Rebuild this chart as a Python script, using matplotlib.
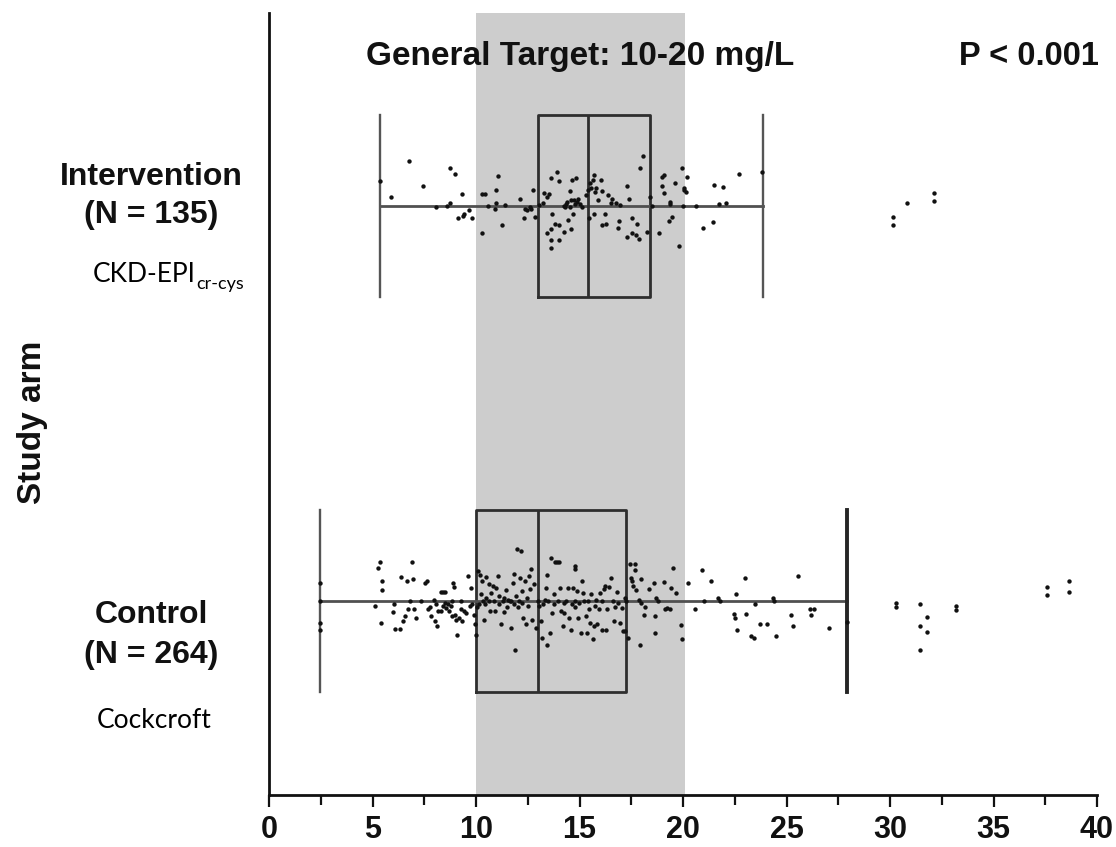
import matplotlib
matplotlib.use("Agg")
import matplotlib.pyplot as plt
from matplotlib.ticker import MultipleLocator

# ---- data -------------------------------------------------------------
arms = ["Control", "Intervention"]
arm_counts = [264, 135]
equations = ["Cockcroft", "CKD-EPI"]
equation_subscripts = ["", "cr-cys"]

target_low, target_high = 10.0, 20.1
p_text = "P < 0.001"
x_ticks = [0, 5, 10, 15, 20, 25, 30, 35, 40]

# box-plot summaries (mg/L)
ctrl_stats = dict(q1=10.0, med=13.0, q3=17.25, whislo=2.45, whishi=27.9)
interv_stats = dict(q1=13.0, med=15.4, q3=18.4, whislo=5.35, whishi=23.85)

# individual trough levels (mg/L) and vertical jitter
interv_x = [
    5.38, 5.90, 6.76, 7.45, 8.09, 8.61, 8.75, 8.75, 9.00, 9.32,
    9.13, 9.35, 9.44, 9.66, 9.82, 10.30, 10.44, 10.30, 10.90, 10.95,
    10.99, 11.07, 11.25, 12.14, 12.37, 12.32, 12.45, 12.66, 12.76, 12.83,
    13.06, 13.28, 13.52, 13.45, 13.63, 13.63, 13.63, 13.63, 13.69, 13.92,
    14.00, 14.00, 13.83, 14.00, 14.23, 14.35, 14.32, 14.44, 14.52, 14.61,
    14.66, 14.69, 14.73, 14.83, 14.87, 14.92, 15.00, 15.42, 15.47, 15.52,
    15.64, 15.69, 15.69, 15.82, 16.04, 16.11, 16.07, 16.21, 16.28, 16.38,
    16.59, 16.76, 16.94, 16.90, 16.85, 17.28, 17.28, 17.37, 17.54, 17.54,
    17.71, 17.80, 17.88, 17.94, 18.07, 18.28, 18.40, 18.83, 18.97, 19.06,
    18.97, 19.09, 19.32, 19.35, 19.49, 19.61, 19.80, 19.97, 20.00, 20.07,
    20.13, 20.21, 20.64, 20.99, 21.45, 21.50, 21.76, 21.94, 22.07, 22.71,
    23.83,
    14.23, 14.38, 14.61, 14.76, 15.13, 15.30, 15.56, 15.76, 15.90, 16.50,
    13.23, 13.45, 19.35, 20.04, 12.63, 10.56, 11.42, 18.49, 14.52,
    30.14, 30.14, 30.82, 32.13, 32.13,
]
interv_jit = [
    0.063, 0.024, 0.114, 0.052, -0.002, 0.000, 0.007, 0.096, 0.081, 0.030,
    -0.031, -0.025, -0.020, -0.010, -0.030, 0.030, 0.030, -0.067, -0.006, 0.007,
    0.042, 0.076, -0.048, 0.017, -0.006, -0.031, -0.010, -0.008, 0.042, -0.027,
    0.004, 0.034, 0.030, -0.068, 0.072, -0.057, -0.085, -0.107, -0.019, 0.087,
    0.063, -0.048, -0.046, -0.086, -0.065, 0.005, -0.002, -0.036, 0.039, -0.057,
    0.066, -0.020, 0.015, 0.072, 0.011, 0.017, 0.005, 0.041, -0.031, 0.058,
    0.066, 0.080, -0.019, 0.047, 0.066, 0.039, -0.048, -0.019, -0.044, 0.028,
    0.017, 0.007, 0.003, -0.037, -0.055, 0.052, -0.078, 0.017, -0.031, -0.068,
    -0.074, -0.046, -0.082, 0.096, 0.127, -0.065, 0.024, -0.068, 0.074, 0.079,
    0.051, 0.032, -0.037, 0.005, -0.027, 0.058, -0.102, 0.096, 0.000, 0.047,
    0.036, 0.074, 0.000, -0.055, -0.040, 0.053, 0.005, 0.049, 0.007, 0.081,
    0.087,
    0.000, 0.011, 0.015, 0.005, -0.002, 0.028, 0.047, 0.036, 0.015, 0.007,
    0.007, 0.024, 0.011, 0.041, -0.002, 0.000, 0.003, 0.000, -0.002,
    -0.028, -0.048, 0.008, 0.033, 0.013,
]

ctrl_x = [
    2.47, 2.47, 2.47, 2.47, 5.14, 5.28, 5.36, 5.42, 5.45, 5.45,
    6.00, 6.06, 6.11, 6.32, 6.37, 6.45, 6.58, 6.66, 6.70, 6.83,
    6.89, 6.97, 7.01, 7.09, 7.53, 7.61, 7.70, 7.84, 7.96, 8.01,
    8.08, 8.13, 8.18, 8.31, 8.39, 8.48, 8.39, 8.48, 8.56, 8.65,
    8.70, 8.77, 8.82, 8.91, 8.95, 9.00, 9.05, 9.08, 9.17, 9.26,
    9.34, 9.43, 9.52, 9.60, 9.78, 9.81, 9.91, 9.95, 9.98, 10.12,
    10.16, 10.21, 10.29, 10.33, 10.38, 10.47, 10.50, 10.61, 10.68, 10.73,
    10.81, 10.90, 10.99, 11.07, 11.13, 11.19, 11.33, 11.37, 11.47, 11.54,
    11.64, 11.68, 11.77, 11.82, 11.85, 11.89, 11.94, 11.99, 12.06, 12.11,
    12.16, 12.20, 12.28, 12.37, 12.41, 12.51, 12.58, 12.63, 12.68, 12.72,
    12.80, 12.89, 13.03, 13.15, 13.20, 13.32, 13.37, 13.41, 13.44, 13.58,
    13.62, 13.67, 13.79, 13.84, 13.93, 14.01, 14.07, 14.10, 14.19, 14.27,
    14.36, 14.45, 14.48, 14.59, 14.71, 14.76, 14.76, 14.79, 14.79, 14.88,
    14.93, 15.05, 15.14, 15.17, 15.23, 15.31, 15.35, 15.45, 15.49, 15.57,
    15.66, 15.69, 15.80, 15.83, 15.92, 16.00, 16.09, 16.18, 16.21, 16.26,
    16.35, 16.44, 16.52, 16.66, 16.70, 16.83, 16.96, 17.08, 17.18, 17.22,
    17.25, 17.35, 17.42, 17.48, 17.56, 17.60, 17.70, 17.70, 17.73, 17.87,
    17.91, 17.99, 18.12, 18.17, 18.34, 18.60, 18.63, 18.63, 18.69, 19.08,
    19.12, 19.21, 19.38, 19.43, 19.50, 19.67, 19.90, 19.95, 20.24, 20.59,
    20.94, 21.02, 21.33, 21.71, 21.80, 22.44, 22.49, 22.58, 22.61, 23.01,
    23.06, 23.27, 23.44, 23.48, 23.70, 24.05, 24.34, 24.40, 24.48, 25.21,
    25.31, 25.55, 26.13, 26.18, 26.35,
    27.07, 27.90,
    7.35, 7.79, 8.31, 8.82, 9.26, 9.69, 10.04, 10.26, 10.43, 10.64,
    10.85, 11.13, 11.30, 11.51, 11.71, 12.03, 12.23, 12.46, 12.98, 13.24,
    13.50, 13.76, 13.96, 14.24, 14.62, 14.97, 15.40, 15.74, 16.09, 16.61,
    16.87, 17.04, 17.99, 18.77,
    30.28, 30.28, 31.45, 31.79, 31.43, 31.79, 31.45, 33.19, 33.19,
    37.57, 37.57, 38.65, 38.65,
]
ctrl_jit = [
    0.047, 0.000, -0.055, -0.074, -0.013, 0.085, 0.099, -0.055, 0.051, 0.027,
    -0.028, -0.007, -0.070, -0.070, 0.061, -0.051, -0.038, 0.052, -0.019, 0.000,
    0.099, 0.055, -0.021, -0.042, 0.047, 0.052, -0.021, -0.038, 0.002, -0.051,
    -0.008, -0.063, -0.025, 0.024, 0.024, 0.024, -0.013, -0.004, -0.017, -0.008,
    -0.025, -0.013, -0.038, 0.047, 0.036, -0.034, -0.049, -0.085, -0.042, -0.021,
    -0.051, -0.025, -0.030, 0.063, 0.032, -0.007, -0.034, -0.059, -0.085, 0.076,
    -0.008, 0.066, 0.051, 0.000, -0.047, 0.061, 0.008, 0.044, -0.025, 0.021,
    0.038, -0.025, 0.032, 0.063, 0.013, -0.059, 0.008, -0.027, 0.027, 0.004,
    0.000, -0.068, 0.047, 0.068, -0.008, -0.125, 0.013, 0.131, 0.000, 0.058,
    0.127, 0.025, -0.042, 0.052, -0.059, -0.013, 0.063, 0.030, 0.080, -0.047,
    0.044, -0.069, -0.013, -0.051, -0.093, 0.002, 0.032, 0.066, -0.110, -0.080,
    0.108, -0.030, 0.017, 0.100, 0.100, 0.100, 0.032, -0.025, -0.063, -0.030,
    0.000, 0.034, -0.042, -0.074, 0.032, 0.089, 0.080, 0.000, -0.015, 0.025,
    -0.042, -0.080, 0.052, 0.021, 0.000, -0.038, -0.080, -0.021, -0.055, 0.017,
    -0.097, -0.063, 0.002, -0.058, -0.021, 0.021, -0.072, 0.030, 0.038, -0.074,
    -0.019, 0.036, 0.058, -0.051, -0.015, 0.024, -0.055, -0.076, 0.007, -0.076,
    0.000, -0.093, 0.095, 0.058, 0.051, 0.038, 0.095, 0.078, 0.027, 0.002,
    -0.110, 0.055, -0.034, -0.015, 0.030, 0.047, -0.038, -0.080, 0.007, 0.049,
    -0.019, -0.017, -0.019, 0.034, 0.083, 0.021, -0.061, -0.095, 0.047, -0.019,
    0.078, 0.000, 0.051, 0.007, 0.000, -0.032, -0.044, 0.019, -0.072, 0.059,
    -0.032, -0.089, -0.093, -0.008, -0.058, -0.058, 0.008, 0.000, -0.089, -0.036,
    -0.063, 0.063, -0.021, -0.036, -0.021,
    -0.069, -0.054,
    0.000, -0.015, -0.025, 0.000, 0.000, -0.013, -0.015, 0.017, -0.008, 0.000,
    0.000, -0.008, 0.000, -0.015, 0.000, -0.015, -0.004, 0.008, 0.000, -0.008,
    0.000, -0.008, 0.000, -0.004, -0.008, -0.004, 0.000, -0.013, 0.000, 0.000,
    -0.004, -0.017, -0.004, 0.000,
    -0.006, -0.014, -0.008, -0.041, -0.063, -0.079, -0.124, -0.012, -0.023,
    0.036, 0.015, 0.051, 0.023,
]

# ---- figure -----------------------------------------------------------
W, H = 1116, 847
BOLD = "Liberation Sans"
LIGHT = "Lato"
INK = "#111111"

fig = plt.figure(figsize=(W / 100, H / 100), dpi=100)
ax = fig.add_axes([269 / W, 1 - 795 / H, (1097 - 269) / W, (795 - 13) / H])


def fx(px):
    return px / W


def fy(py):
    return 1 - py / H


positions = [1, 2]
box_half = 0.231

ax.axvspan(target_low, target_high, color="#cdcdcd", lw=0, zorder=0)

stats = []
for s, lab in zip([ctrl_stats, interv_stats], arms):
    d = dict(s)
    d["label"] = lab
    stats.append(d)

art = ax.bxp(
    stats,
    positions=positions,
    vert=False,
    widths=2 * box_half,
    capwidths=2 * box_half,
    showfliers=False,
    boxprops=dict(color="#2e2e2e", lw=2.0),
    medianprops=dict(color="#2e2e2e", lw=2.0),
    whiskerprops=dict(color="#505050", lw=2.0),
    capprops=dict(color="#555555", lw=1.7),
    manage_ticks=False,
    zorder=2,
)
# the control arm's upper cap is drawn heavier
art["caps"][1].set_linewidth(2.8)
art["caps"][1].set_color("#262626")

# whisker line continues through each box
for s, y in zip([ctrl_stats, interv_stats], positions):
    ax.hlines(y, s["q1"], s["q3"], color="#505050", lw=2.0, zorder=2)

ax.scatter(ctrl_x, [positions[0] + j for j in ctrl_jit],
           s=10, c=INK, marker="o", linewidths=0, zorder=4)
ax.scatter(interv_x, [positions[1] + j for j in interv_jit],
           s=10, c=INK, marker="o", linewidths=0, zorder=4)

ax.set_xlim(0, 40)
ax.set_ylim(0.509, 2.489)
ax.set_xticks(x_ticks)
ax.xaxis.set_minor_locator(MultipleLocator(2.5))
ax.set_yticks([])
for side in ("top", "right"):
    ax.spines[side].set_visible(False)
for side in ("left", "bottom"):
    ax.spines[side].set_linewidth(2.0)
    ax.spines[side].set_color(INK)
ax.tick_params(axis="x", which="major", length=8.5, width=1.6,
               color=INK, pad=6)
ax.tick_params(axis="x", which="minor", length=7, width=1.6, color=INK)
for t in ax.get_xticklabels():
    t.set_fontfamily(BOLD)
    t.set_fontweight("bold")
    t.set_fontsize(22)
    t.set_color(INK)

# header texts
fig.text(fx(580), fy(65), f"General Target: {target_low:g}-{round(target_high):g} mg/L",
         ha="center", va="baseline", fontsize=24, fontweight="bold",
         family=BOLD, color=INK)
fig.text(fx(959), fy(65), p_text, ha="left", va="baseline", fontsize=23.5,
         fontweight="bold", family=BOLD, color=INK)

# y-axis title
fig.text(fx(41), fy(422), "Study arm", rotation=90, ha="center", va="baseline",
         rotation_mode="anchor", fontsize=24, fontweight="bold", family=BOLD,
         color=INK)

# arm labels
name_base = {"Intervention": (185, 223), "Control": (623, 663)}
eq_pos = {"Intervention": (93, 282), "Control": (97, 728)}
for arm, n, eq, sub in zip(arms, arm_counts, equations, equation_subscripts):
    b1, b2 = name_base[arm]
    fig.text(fx(151), fy(b1), arm, ha="center", va="baseline", fontsize=23,
             fontweight="bold", family=BOLD, color=INK)
    fig.text(fx(151), fy(b2), f"(N = {n})", ha="center", va="baseline",
             fontsize=23, fontweight="bold", family=BOLD, color=INK)
    ex, ey = eq_pos[arm]
    t = fig.text(fx(ex), fy(ey), eq, ha="left", va="baseline", fontsize=19,
                 family=LIGHT, color="#000000")
    if sub:
        fig.canvas.draw()
        bb = t.get_window_extent()
        fig.text(bb.x1 / W, fy(ey + 7), sub, ha="left", va="baseline",
                 fontsize=13, family=LIGHT, color="#000000")

fig.savefig("out.png", dpi=100)
